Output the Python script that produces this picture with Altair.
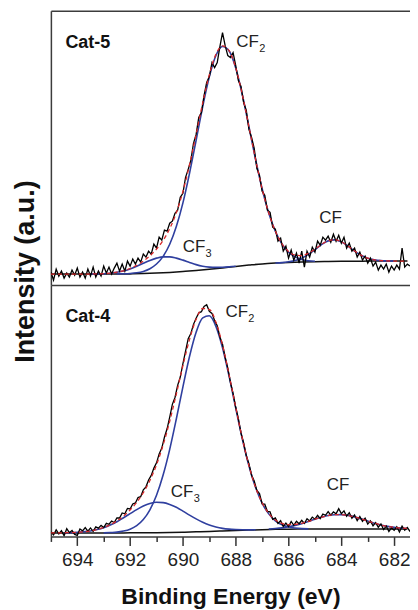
import altair as alt
import numpy as np
import pandas as pd

# ---------------- Cat-5 (upper panel), intensity in a.u. ----------------
TOP_BASE_START, TOP_BASE_STEP = 695.0, 0.5
TOP_BASE = [11, 11, 11, 11, 11, 11.1, 11.2, 11.5, 12.0, 12.7, 13.6, 14.6, 15.8, 17.2,
            18.7, 20.0, 21.2, 22.0, 22.6, 23.0, 23.3, 23.6, 23.8, 23.9, 24, 24, 24, 24, 24]
TOP_CF3_START = 693.5
TOP_CF3 = [11.1, 11.2, 11.4, 11.9, 12.8, 14.1, 16.2, 18.8, 21.8, 24.7, 27.0, 28.3, 28.3,
           27.0, 25.0, 22.7, 20.5, 18.9, 18.0, 17.7, 17.8, 18.2, 18.8]
TOP_CF2_START = 692.5
TOP_CF2 = [11.2, 11.3, 11.6, 12.3, 13.7, 16.4, 21.1, 28.8, 40.9, 58.6, 82.4, 112.0, 145.1,
           179.0, 208.7, 230.1, 239.1, 234.6, 217.6, 190.8, 158.8, 126.1, 96.5, 72.2, 54.0,
           41.2, 33.0, 28.3, 25.7, 24.4, 23.8]
TOP_CF_START = 686.5
TOP_CF = [22.1, 22.5, 23.3, 24.6, 26.9, 30.7, 35.5, 40.6, 44.3, 45.3, 43.3, 39.1, 34.1,
          29.9, 26.9, 25.3, 24.5, 24.2, 24.0]
TOP_FIT_START = 695.0
TOP_FIT = [11.0, 11.0, 11.0, 11.0, 11.0, 11.0, 11.1, 11.2, 11.4, 11.9, 12.9, 14.3, 16.6,
           19.8, 24.0, 29.4, 36.1, 44.8, 56.5, 72.5, 93.8, 120.6, 151.0, 182.7, 210.9,
           231.3, 239.7, 234.9, 217.7, 190.8, 158.8, 126.1, 96.5, 72.2, 54.1, 41.4, 33.7,
           30.1, 29.6, 31.9, 36.0, 40.8, 44.3, 45.3, 43.3, 39.1, 34.1, 29.9, 26.9, 25.3,
           24.5, 24.2, 24.0, 24.0, 24.0, 24.0, 24.0]
TOP_DATA_START = 695.0
TOP_DATA = [13, 5, 16, 9, 14, 7, 12, 8, 15, 10,
            17, 8, 13, 7, 16, 9, 18, 8, 14, 9,
            19, 12, 18, 11, 17, 22, 14, 21, 14, 24,
            19, 26, 21, 27, 23, 31, 28, 34, 31, 41,
            37, 48, 45, 55, 54, 62, 64, 72, 75, 88,
            92, 108, 116, 125, 142, 151, 168, 173, 190, 203,
            209, 223, 218, 223, 239, 253, 240, 230, 228, 233,
            220, 205, 199, 183, 175, 156, 148, 137, 117, 110,
            94, 90, 75, 73, 58, 56, 44, 47, 34, 39,
            27, 35, 25, 32, 22, 34, 18, 34, 28, 38,
            33, 44, 40, 48, 45, 49, 43, 51, 44, 50,
            42, 48, 37, 42, 34, 37, 28, 33, 25, 29,
            22, 27, 19, 23, 15, 20, 16, 21, 13, 19,
            15, 20, 16, 37, 18, 21, 19, 23, 20, 24,
            22]

# ---------------- Cat-4 (lower panel) ----------------
BOT_BASE_START, BOT_BASE_STEP = 695.0, 0.5
BOT_BASE = [3.5, 3.5, 3.5, 3.5, 3.5, 3.5, 3.6, 3.6, 3.7, 3.9, 4.2, 4.6, 5.0, 5.5, 6.0,
            6.4, 6.8, 7.1, 7.3, 7.4, 7.5, 7.5, 7.5, 7.5, 7.5, 7.5, 7.5, 7.5, 7.5]
BOT_CF3_START = 694.5
BOT_CF3 = [3.7, 3.8, 4.1, 4.7, 5.5, 6.9, 8.8, 11.4, 14.7, 18.7, 22.8, 26.9, 30.5, 33.1,
           34.3, 33.9, 32.1, 29.2, 25.4, 21.4, 17.6, 14.2, 11.5, 9.5, 8.1, 7.3, 6.9, 6.7,
           6.6, 6.7]
BOT_CF2_START = 693.0
BOT_CF2 = [3.6, 3.9, 4.3, 5.4, 7.3, 10.8, 16.9, 26.7, 41.2, 61.5, 87.3, 117.7, 150.0,
           180.4, 204.7, 219.1, 221.2, 210.6, 189.1, 160.4, 128.6, 97.7, 70.8, 49.2, 33.4,
           22.6, 15.7, 11.7, 9.5, 8.4, 7.8, 7.6]
BOT_CF_START = 686.75
BOT_CF = [7.4, 7.9, 8.6, 9.7, 11.1, 12.8, 15.0, 17.2, 19.2, 20.9, 21.8, 21.9, 21.1, 19.6,
          17.6, 15.4, 13.3, 11.5, 10.1, 9.1, 8.4, 8.0, 7.8, 7.6]
BOT_FIT_START = 695.0
BOT_FIT = [3.5, 3.6, 3.7, 3.8, 4.1, 4.7, 5.5, 6.9, 8.9, 11.8, 15.5, 20.5, 26.5, 34.1,
           43.8, 56.1, 71.8, 91.6, 115.5, 142.8, 171.2, 197.4, 217.7, 228.5, 227.7, 214.8,
           191.7, 161.9, 129.5, 98.2, 71.0, 49.4, 33.7, 23.0, 16.5, 13.1, 11.9, 12.1, 13.2,
           15.1, 17.3, 19.2, 20.9, 21.8, 21.9, 21.1, 19.6, 17.6, 15.4, 13.3, 11.5, 10.1,
           9.1, 8.4, 8.0, 7.8, 7.6]
BOT_DATA_START = 695.0
BOT_DATA = [4.5, 1.5, 6.6, 2.6, 5.7, 0.7, 7.8, 3.8, 5.9, 2.0,
            1.1, 7.4, 5.6, 8.9, 5.2, 8.5, 5.1, 9.6, 8.3, 11.1,
            8.9, 13.1, 12.2, 15.5, 14.0, 18.5, 18.5, 23.5, 22.7, 28.1,
            27.5, 32.5, 33.6, 39.0, 39.9, 46.8, 49.7, 56.6, 61.2, 68.5,
            73.8, 82.7, 88.6, 99.4, 107.9, 119.5, 132.4, 139.3, 151.5, 159.8,
            173.2, 185.7, 198.2, 203.5, 212.6, 218.7, 224.0, 225.3, 230.5, 232.2,
            225.7, 223.6, 216.4, 211.2, 200.0, 192.7, 179.6, 168.8, 154.4, 143.5,
            129.5, 118.0, 103.5, 93.8, 80.9, 73.0, 61.4, 55.7, 46.2, 43.0,
            32.7, 32.5, 25.1, 24.7, 17.1, 18.5, 13.1, 15.8, 9.9, 13.4,
            9.9, 15.0, 11.1, 15.3, 12.8, 16.2, 13.0, 17.7, 15.5, 19.4,
            17.3, 21.1, 17.8, 22.5, 21.2, 24.9, 21.3, 24.6, 22.8, 27.9,
            22.9, 25.6, 20.3, 23.8, 18.2, 21.6, 15.8, 20.0, 15.2, 18.3,
            12.4, 15.6, 10.7, 13.9, 9.2, 12.5, 6.9, 10.4, 4.9, 8.5,
            6.1, 9.8, 4.5, 10.3, 6.2, 9.0, 4.9, 8.8, 5.7, 8.7,
            6.6]

# ---------------- annotations ----------------
TOP_TAG = {"E": [694.45], "I": [238], "t": ["Cat-5"]}
TOP_PEAKS = {"E": [687.98, 690.01, 684.84], "I": [239, 33, 62],
             "t": ["CF", "CF", "CF"], "sub": ["2", "3", ""]}
BOT_TAG = {"E": [694.45], "I": [215], "t": ["Cat-4"]}
BOT_PEAKS = {"E": [688.39, 690.46, 684.55], "I": [220, 40, 47],
             "t": ["CF", "CF", "CF"], "sub": ["2", "3", ""]}

X_MAX, X_MIN = 695, 681.4
X_TICKS = list(range(682, 696))
FONT = "Liberation Sans"
BLUE = "#2f3f9f"
RED = "#d8282a"
FRAME = "#3c3c3c"
PLOT_W = 360


def line_df(start, step, values):
    energies = np.round(start - step * np.arange(len(values)), 3)
    return pd.DataFrame({"E": energies, "I": values})


def x_scale():
    return alt.Scale(domain=[X_MAX, X_MIN], nice=False, zero=False)


frame_top_axis = alt.Axis(orient="top", labels=False, ticks=False, grid=False,
                          domain=True, domainColor=FRAME, domainWidth=1.5)


def make_panel(base, cf3, cf2, cf, fit, data, tag, peaks, ymax, height, x_axis, y_axis,
               x_title, y_title, extra_top_frame):
    X = alt.X("E:Q", scale=x_scale(), axis=x_axis, title=x_title)
    Y = alt.Y("I:Q", scale=alt.Scale(domain=[0, ymax], nice=False, zero=False),
              axis=y_axis, title=y_title)

    def line(df, color, width, smooth=True, dash=None):
        kw = dict(color=color, strokeWidth=width, clip=True)
        if smooth:
            kw["interpolate"] = "monotone"
        if dash:
            kw["strokeDash"] = dash
        return (alt.Chart(df).mark_line(**kw)
                .transform_filter(f"datum.E >= {X_MIN} - 0.01")
                .encode(x=X, y=Y))

    inner = alt.layer(
        line(base, "#111111", 1.5),
        line(cf3, BLUE, 1.6),
        line(cf2, BLUE, 1.6),
        line(cf, BLUE, 1.6),
        line(data, "#000000", 1.3, smooth=False),
        line(fit, RED, 1.3, dash=[4, 3]),
        alt.Chart(pd.DataFrame(peaks)).mark_text(
            align="left", baseline="alphabetic", font=FONT, fontSize=17,
            color="#222222").encode(x=X, y=Y, text="t:N"),
        alt.Chart(pd.DataFrame(peaks)).mark_text(
            align="left", baseline="alphabetic", font=FONT, fontSize=11,
            color="#222222", dx=23, dy=5).encode(x=X, y=Y, text="sub:N"),
    )

    if extra_top_frame:
        X_tag = alt.X("E:Q", scale=x_scale(), axis=frame_top_axis, title=None)
    else:
        X_tag = X
    tag_layer = alt.Chart(pd.DataFrame(tag)).mark_text(
        align="left", baseline="alphabetic", font=FONT, fontSize=18,
        fontWeight="bold", color="#111111").encode(x=X_tag, y=Y, text="t:N")

    chart = alt.layer(inner, tag_layer).properties(width=PLOT_W, height=height)
    if extra_top_frame:
        chart = chart.resolve_scale(x="independent")
    return chart


top_y_axis = alt.Axis(labels=False, ticks=False, grid=False,
                      domain=True, domainColor=FRAME, domainWidth=1.5,
                      titleFont=FONT, titleFontSize=27, titleFontWeight="bold",
                      titleColor="#111111", titleX=-17, titleY=261,
                      titleBaseline="alphabetic")
bot_y_axis = alt.Axis(labels=False, ticks=False, grid=False,
                      domain=True, domainColor=FRAME, domainWidth=1.5)
bot_x_axis = alt.Axis(values=X_TICKS,
                      labelExpr="datum.value % 2 == 0 ? datum.label : ''",
                      tickSize={"condition": {"test": "datum.value % 2 == 0", "value": 9},
                                "value": 5},
                      tickColor="#333333", tickWidth=1.5, grid=False,
                      domain=True, domainColor=FRAME, domainWidth=1.5,
                      labelOverlap=False, labelFlush=False,
                      labelFont=FONT, labelFontSize=19, labelColor="#222222",
                      labelPadding=5, titleFont=FONT, titleFontSize=23,
                      titleFontWeight="bold", titleColor="#111111", titlePadding=16)

top = make_panel(
    line_df(TOP_BASE_START, TOP_BASE_STEP, TOP_BASE),
    line_df(TOP_CF3_START, 0.25, TOP_CF3),
    line_df(TOP_CF2_START, 0.25, TOP_CF2),
    line_df(TOP_CF_START, 0.25, TOP_CF),
    line_df(TOP_FIT_START, 0.25, TOP_FIT),
    line_df(TOP_DATA_START, 0.1, TOP_DATA),
    TOP_TAG, TOP_PEAKS, 275, 275, frame_top_axis, top_y_axis, None, "Intensity (a.u.)",
    False)

bottom = make_panel(
    line_df(BOT_BASE_START, BOT_BASE_STEP, BOT_BASE),
    line_df(BOT_CF3_START, 0.25, BOT_CF3),
    line_df(BOT_CF2_START, 0.25, BOT_CF2),
    line_df(BOT_CF_START, 0.25, BOT_CF),
    line_df(BOT_FIT_START, 0.25, BOT_FIT),
    line_df(BOT_DATA_START, 0.1, BOT_DATA),
    BOT_TAG, BOT_PEAKS, 252, 252, bot_x_axis, bot_y_axis, "Binding Energy (eV)", None,
    True)

chart = alt.vconcat(top, bottom, spacing=0, bounds="flush").properties(
    padding={"left": 4, "top": 2, "right": 0, "bottom": 0}
).configure_view(strokeWidth=0)

chart.save("out.html", embed_options={"renderer": "svg", "actions": False})
